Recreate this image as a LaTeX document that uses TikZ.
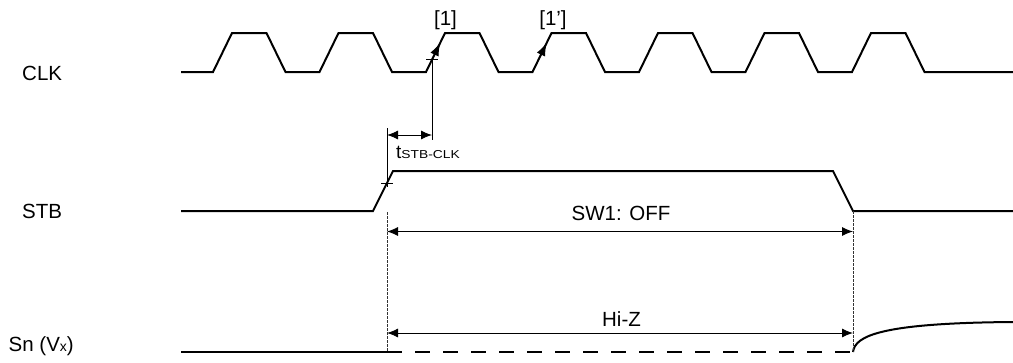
\documentclass[tikz,border=0pt]{standalone}
\usepackage{fontspec}
\setmainfont{Liberation Sans}
\usetikzlibrary{arrows.meta}
\begin{document}
\begin{tikzpicture}[x=1pt,y=-1pt,
  sig/.style={line width=2pt, line join=miter},
  thinline/.style={line width=0.9pt},
  dotv/.style={line width=0.9pt, dash pattern=on 2.5pt off 1.5pt, draw=black!80},
  dimarrow/.style={line width=0.9pt, {Latex[length=11pt,width=9pt]}-{Latex[length=11pt,width=9pt]}},
  edgearrow/.style={line width=1pt, -{Latex[length=13pt,width=9pt]}},
  lbl/.style={font=\fontsize{20.5}{23}\selectfont, inner sep=0pt},
]
\useasboundingbox (0,0) rectangle (1013,362);

% signal names
\node[lbl, anchor=base west] (clk) at (22,80.5) {CLK};
\node[lbl, anchor=base west] (stb) at (22,218) {STB};
\node[lbl, anchor=base west] (sn) at (8.5,351.5) {Sn (V{\fontsize{14}{15}\selectfont x})};

% CLK waveform
\draw[sig] (181,72) foreach \k in {0,...,6} {
  -- ({213+106.5*\k},72) -- ({232+106.5*\k},33) -- ({266.5+106.5*\k},33) -- ({285.5+106.5*\k},72)
} -- (1013,72);

% STB waveform
\draw[sig] (181,211) -- (373,211) -- (393,171) -- (833,171) -- (853,211) -- (1013,211);

% Sn waveform
\draw[sig] (181,352) -- (387,352);
\draw[sig, dash pattern=on 15pt off 13pt] (387,352) -- (853,352);
\draw[sig] (853,352) .. controls (855,336) and (880,323) .. (1013,322);

% key points
\coordinate (e1) at (432,59.7);
\coordinate (e1tip) at (440.2,42.8);
\coordinate (e2a) at (537.5,61.7);
\coordinate (e2tip) at (546.7,42.8);
\coordinate (s1) at (387,183);
\coordinate (v1bot) at (432,140);
\coordinate (v0top) at (387,128);
\coordinate (v0bot) at (387,187);
\coordinate (d0) at (387,135);
\coordinate (d1) at (432,135);
\coordinate (dl0) at (387,212);
\coordinate (dl1) at (387,352);
\coordinate (dr0) at (853,211);
\coordinate (dr1) at (853,352);
\coordinate (sw0) at (387,231.5);
\coordinate (sw1) at (853,231.5);
\coordinate (hz0) at (387,333);
\coordinate (hz1) at (853,333);

% edge arrows
\draw[edgearrow] (e1) -- (e1tip);
\draw[edgearrow] (e2a) -- (e2tip);
\node[lbl, anchor=base] (l1) at (445.5,25) {[1]};
\node[lbl, anchor=base] (l1p) at (553,25) {[1']};

% tsetup marks
\draw[thinline] (e1) -- (v1bot);
\draw[thinline] ([xshift=-6pt]e1) -- ([xshift=6pt]e1);
\draw[thinline] (v0top) -- (v0bot);
\draw[thinline] ([xshift=-6pt]s1) -- ([xshift=6pt]s1);
\draw[dimarrow] (d0) -- (d1);
\node[anchor=base west, inner sep=0pt] (tlab) at (396,158)
  {{\fontsize{19}{20}\selectfont t}\scalebox{1.2}[1]{\fontsize{11.5}{12}\selectfont STB-CLK}};

% dotted guide lines
\draw[dotv] (dl0) -- (dl1);
\draw[dotv] (dr0) -- (dr1);

% duration arrows
\draw[dimarrow] (sw0) -- (sw1);
\node[lbl, anchor=base] (swlab) at (621,220.5) {SW1: OFF};
\draw[dimarrow] (hz0) -- (hz1);
\node[lbl, anchor=base] (hzlab) at (621.5,326) {Hi-Z};
\end{tikzpicture}
\end{document}
